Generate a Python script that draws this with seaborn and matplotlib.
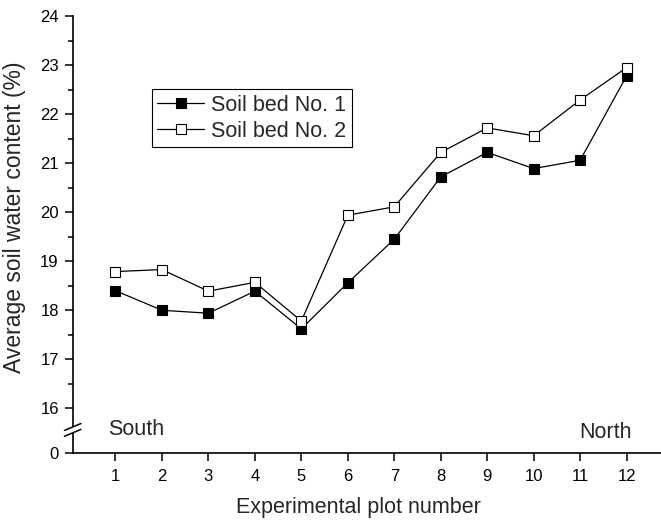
import matplotlib
matplotlib.use("Agg")
import matplotlib.pyplot as plt
import seaborn as sns
import pandas as pd
import numpy as np
from matplotlib.patches import Rectangle

plots = list(range(1, 13))
bed1 = [18.40, 18.00, 17.94, 18.39, 17.62, 18.56, 19.45, 20.72, 21.22, 20.89, 21.06, 22.78]
bed2 = [18.79, 18.83, 18.39, 18.57, 17.78, 19.94, 20.11, 21.22, 21.72, 21.56, 22.29, 22.95]
series_names = ["Soil bed No. 1", "Soil bed No. 2"]
ytick_vals = [15.08, 16, 17, 18, 19, 20, 21, 22, 23, 24]
ytick_labels = ["0", "16", "17", "18", "19", "20", "21", "22", "23", "24"]

sns.set_style("ticks")
plt.rcParams["font.family"] = ["Liberation Sans", "DejaVu Sans"]

fig = plt.figure(figsize=(6.61, 5.20), dpi=100)
ax = fig.add_axes([0.110, 0.128, 0.890, 0.841])

df1 = pd.DataFrame({"plot": plots, "val": bed1})
df2 = pd.DataFrame({"plot": plots, "val": bed2})
sns.lineplot(data=df1, x="plot", y="val", ax=ax, color="black", lw=0.9,
             marker="s", markersize=7, markerfacecolor="black",
             markeredgecolor="black", markeredgewidth=0.8, label=series_names[0])
sns.lineplot(data=df2, x="plot", y="val", ax=ax, color="black", lw=0.9,
             marker="s", markersize=7, markerfacecolor="white",
             markeredgecolor="black", markeredgewidth=0.8, label=series_names[1])

ax.set_xlim(0.08, 12.74)
ax.set_ylim(15.08, 24)
ax.set_xticks(plots)
ax.set_xticklabels([str(p) for p in plots])
ax.set_yticks(ytick_vals)
ax.set_yticklabels(ytick_labels)
ax.set_yticks(np.arange(16.5, 24, 1.0), minor=True)
ax.tick_params(axis="both", which="major", direction="out", length=6, width=1.1,
               labelsize=12, color="black", labelcolor="black", pad=4)
ax.tick_params(axis="x", which="major", pad=5)
ax.tick_params(axis="y", which="minor", direction="out", length=3.5, width=1.1, color="black")

for s in ["top", "right"]:
    ax.spines[s].set_visible(False)
for s in ["left", "bottom"]:
    ax.spines[s].set_linewidth(1.2)
    ax.spines[s].set_color("black")

ax.set_xlabel("Experimental plot number", fontsize=15.5)
ax.set_ylabel("Average soil water content (%)", fontsize=16.5)
ax.xaxis.set_label_coords(0.486, -0.100)
ax.yaxis.set_label_coords(-0.080, 0.54)

# axis break marks
trans = ax.get_yaxis_transform()
ax.add_patch(Rectangle((-0.01, 15.50), 0.02, 0.12, transform=trans,
                       facecolor="white", edgecolor="none", clip_on=False, zorder=5))
for yc in [15.50, 15.62]:
    ax.plot([-0.014, 0.014], [yc - 0.07, yc + 0.07], transform=trans,
            color="black", lw=1.1, clip_on=False, zorder=6)

ax.text(0.84, 15.56, "South", fontsize=15.5, ha="left", va="center")
ax.text(10.97, 15.50, "North", fontsize=15.5, ha="left", va="center")

leg = ax.legend(loc="upper left", bbox_to_anchor=(0.134, 0.833), fontsize=15.5,
                frameon=True, fancybox=False, edgecolor="black", framealpha=1,
                borderpad=0.25, labelspacing=0.25, handlelength=2.2,
                handletextpad=0.33, borderaxespad=0)
leg.get_frame().set_linewidth(0.8)

fig.savefig("out.png", dpi=100)
